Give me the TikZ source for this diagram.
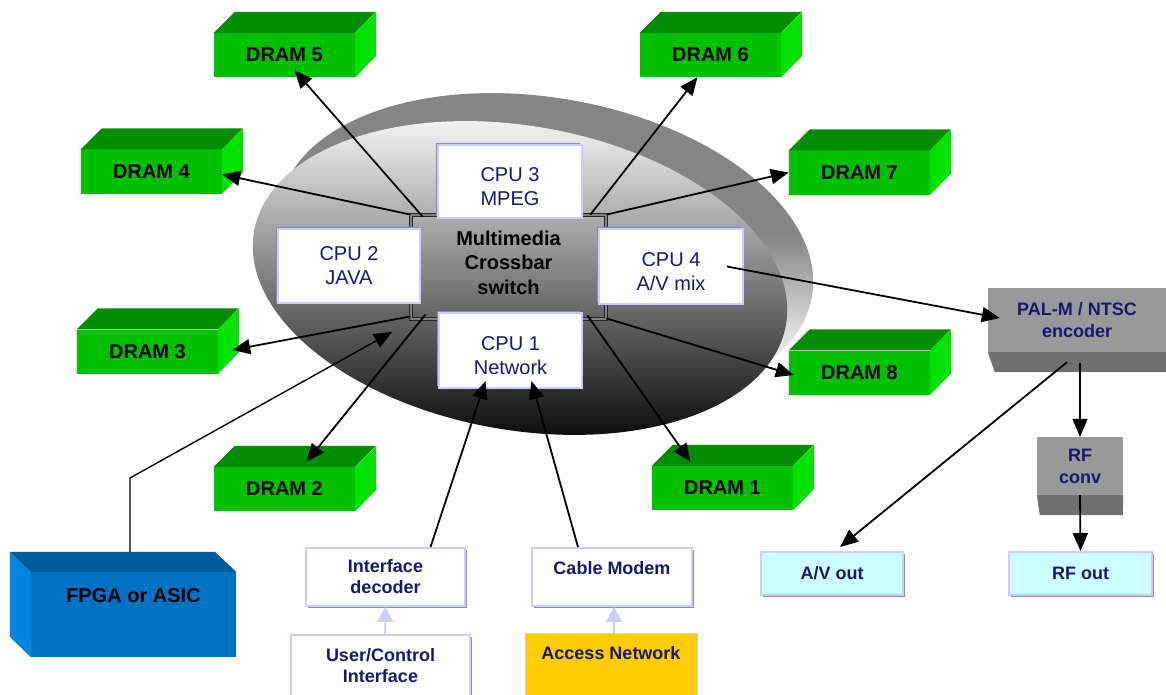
\documentclass[tikz,border=0pt]{standalone}
\usepackage{fontspec}
\setmainfont{Liberation Sans}
\usetikzlibrary{arrows.meta,shadows}

\definecolor{dfront}{RGB}{0,192,0}
\definecolor{dtop}{RGB}{0,142,0}
\definecolor{dside}{RGB}{0,226,0}
\definecolor{ffront}{RGB}{0,114,196}
\definecolor{ftop}{RGB}{0,92,158}
\definecolor{fside}{RGB}{0,134,224}
\definecolor{navy}{RGB}{24,24,112}
\definecolor{lav}{RGB}{204,204,255}
\definecolor{lavdark}{RGB}{140,140,180}
\definecolor{encfront}{RGB}{153,153,153}
\definecolor{encbottom}{RGB}{112,112,112}
\definecolor{cyanbox}{RGB}{204,255,255}
\definecolor{amber}{RGB}{255,204,0}

% grey rim of the disc, fading to white towards its lower edge
\pgfdeclareverticalshading{ringshade}{100bp}{color(0bp)=(white); color(25bp)=(white); color(38bp)=(black!12); color(52bp)=(black!48); color(100bp)=(black!48)}

% 3-D green memory block: front face node plus top and right faces
\newcommand\drambox[4]{%
  \node[dram] (#1) at (#2,#3) {#4};
  \fill[dtop] (#1.north west) -- ++(21,-21) -- ++(141,0) -- (#1.north east) -- cycle;
  \fill[dside] (#1.north east) -- ++(21,-21) -- ++(0,44) -- (#1.south east) -- cycle;
}

\begin{document}
\begin{tikzpicture}[x=1pt,y=-1pt,
  dram/.style={fill=dfront, minimum width=141, minimum height=44, inner sep=0pt,
    font=\bfseries\fontsize{20}{24}\selectfont},
  cpu/.style={fill=white, draw=lav, line width=2pt, align=center, text=navy,
    inner sep=0pt, font=\fontsize{20}{24}\selectfont,
    drop shadow={shadow xshift=-1.6pt, shadow yshift=1.6pt, fill=lavdark, opacity=1}},
  ctrl/.style={fill=white, draw=lav, line width=2pt, align=center, text=navy,
    inner sep=0pt, font=\bfseries\fontsize{18}{21}\selectfont,
    drop shadow={shadow xshift=1.6pt, shadow yshift=-1.6pt, fill=lavdark, opacity=1}},
  outbox/.style={ctrl, fill=cyanbox},
  greybox/.style={fill=encfront, align=center, text=navy, inner sep=0pt,
    font=\bfseries\fontsize{18}{22}\selectfont},
  conn/.style={line width=1.8pt, -{Triangle[length=18pt,width=15pt]}},
  lavconn/.style={draw=lav, line width=1.6pt, -{Triangle[length=15pt,width=16pt,fill=lav]}},
]
\useasboundingbox (0,0) rectangle (1166,695);
\clip (0,0) rectangle (1166,695);

% the disc: rim behind, shaded face in front
\shade[shading=ringshade, rotate around={-10:(546,250)}] (546,250) ellipse [x radius=270, y radius=152];
\shade[top color=white, middle color=black!25, bottom color=black, rotate around={-10:(520,278)}] (520,278) ellipse [x radius=270, y radius=152];

% crossbar and processors
\node[draw=black!85, double=black!50, double distance=1.6pt, line width=0.8pt,
  minimum width=195, minimum height=104, align=center,
  font=\bfseries\fontsize{20}{24.5}\selectfont] (xbar) at (508.5,267) {Multimedia\\Crossbar\\switch\\[-16pt]\mbox{}};
\node[cpu, minimum width=144, minimum height=73] (cpu3) at (510,181.5) {\mbox{}\\[1pt]CPU 3\\MPEG};
\node[cpu, minimum width=142, minimum height=74] (cpu2) at (349,266) {CPU 2\\JAVA};
\node[cpu, minimum width=144, minimum height=75] (cpu4) at (671,266.5) {\mbox{}\\[0pt]CPU 4\\A/V mix};
\node[cpu, minimum width=143, minimum height=75] (cpu1) at (510.5,350.5) {\mbox{}\\[1pt]CPU 1\\Network};

% memories
\drambox{d5}{284.5}{55}{DRAM 5}
\drambox{d6}{710.5}{55}{DRAM 6}
\drambox{d4}{151.5}{171.5}{DRAM 4}
\drambox{d7}{859.5}{172.5}{DRAM 7}
\drambox{d3}{147.5}{351.5}{DRAM 3}
\drambox{d8}{859.5}{372.5}{DRAM 8}
\drambox{d2}{284.5}{489}{DRAM 2}
\drambox{d1}{722.5}{488}{DRAM 1}

% FPGA block, its faces on the left and on top
\node[fill=ffront, minimum width=205, minimum height=85, inner sep=0pt,
  text height=14pt, text depth=39pt, font=\bfseries\fontsize{20}{24}\selectfont] (fpga) at (133.5,614.5) {FPGA or ASIC};
\fill[fside] (fpga.north west) -- ++(-21,-20) -- ++(0,85) -- (fpga.south west) -- cycle;
\fill[ftop] (fpga.north west) -- ++(-21,-20) -- ++(205,0) -- (fpga.north east) -- cycle;

% video output chain
\node[greybox, minimum width=178, minimum height=64] (enc) at (1077,320) {PAL-M / NTSC\\encoder};
\fill[encbottom] (enc.south west) -- ++(7,20) -- ++(171,0) -- (enc.south east) -- cycle;
\node[greybox, minimum width=86, minimum height=58] (rfc) at (1080,466) {RF\\conv};
\fill[encbottom] (rfc.south west) -- ++(3,20) -- ++(83,0) -- (rfc.south east) -- cycle;
\node[outbox, minimum width=142, minimum height=43] (avout) at (832,573.5) {A/V out};
\node[outbox, minimum width=143, minimum height=43] (rfout) at (1080.5,573.5) {RF out};

% inputs
\node[ctrl, minimum width=159, minimum height=58] (ifd) at (385.5,577) {Interface\\decoder};
\node[ctrl, minimum width=179, minimum height=62] (uci) at (380.5,666) {User/Control\\Interface};
\node[ctrl, minimum width=160, minimum height=58, text height=13pt, text depth=18pt] (cm) at (612,577) {Cable Modem};
\node[fill=amber, draw=lav, line width=1pt, minimum width=172, minimum height=64, inner sep=0pt,
  text=navy, text height=13pt, text depth=24pt, font=\bfseries\fontsize{18}{21}\selectfont] (acc) at (611,665) {Access Network};

\coordinate (fpgabend) at (130,478);
\coordinate (fpgatip) at (392,332);

% crossbar to memories
\draw[conn] ([xshift=12pt,yshift=-2pt]xbar.north west) -- ([xshift=10pt,yshift=7pt]d5.south);
\draw[conn] (xbar.north west) -- ([yshift=-3pt]d4.east);
\draw[conn] ([xshift=-16pt]xbar.north east) -- ([xshift=-13pt]d6.south);
\draw[conn] (xbar.north east) -- (d7.west);
\draw[conn] ([yshift=3pt]xbar.south west) -- ([xshift=14pt,yshift=1.5pt]d3.east);
\draw[conn] ([xshift=15pt,yshift=5pt]xbar.south west) -- ([xshift=22pt,yshift=5pt]d2.north);
\draw[conn] ([yshift=1pt]xbar.south east) -- ([xshift=5pt,yshift=-2.5pt]d8.west);
\draw[conn] ([xshift=-19pt,yshift=4pt]xbar.south east) -- ([xshift=-32pt,yshift=4pt]d1.north);
\draw[conn, line width=1.4pt] ([xshift=-3.5pt,yshift=20pt]fpga.north) -- (fpgabend) -- (fpgatip);

% processors to video chain, inputs to processors
\draw[conn] ([xshift=56pt]cpu4.center) -- ([xshift=12pt,yshift=2pt]enc.west);
\draw[conn] ([xshift=3pt,yshift=-11pt]enc.south) -- (rfc.north);
\draw[conn] (rfc.south) -- (rfout.north);
\draw[conn] ([xshift=-10pt,yshift=-10pt]enc.south) -- ([xshift=8pt,yshift=4pt]avout.north);
\draw[conn] ([xshift=45pt]ifd.north) -- ([xshift=-25pt,yshift=8pt]cpu1.south);
\draw[conn] ([xshift=-34pt]cm.north) -- ([xshift=21pt,yshift=8pt]cpu1.south);
\draw[lavconn] ([xshift=4.5pt]uci.north) -- (ifd.south);
\draw[lavconn] ([xshift=3pt]acc.north) -- ([xshift=2pt]cm.south);
\end{tikzpicture}
\end{document}
